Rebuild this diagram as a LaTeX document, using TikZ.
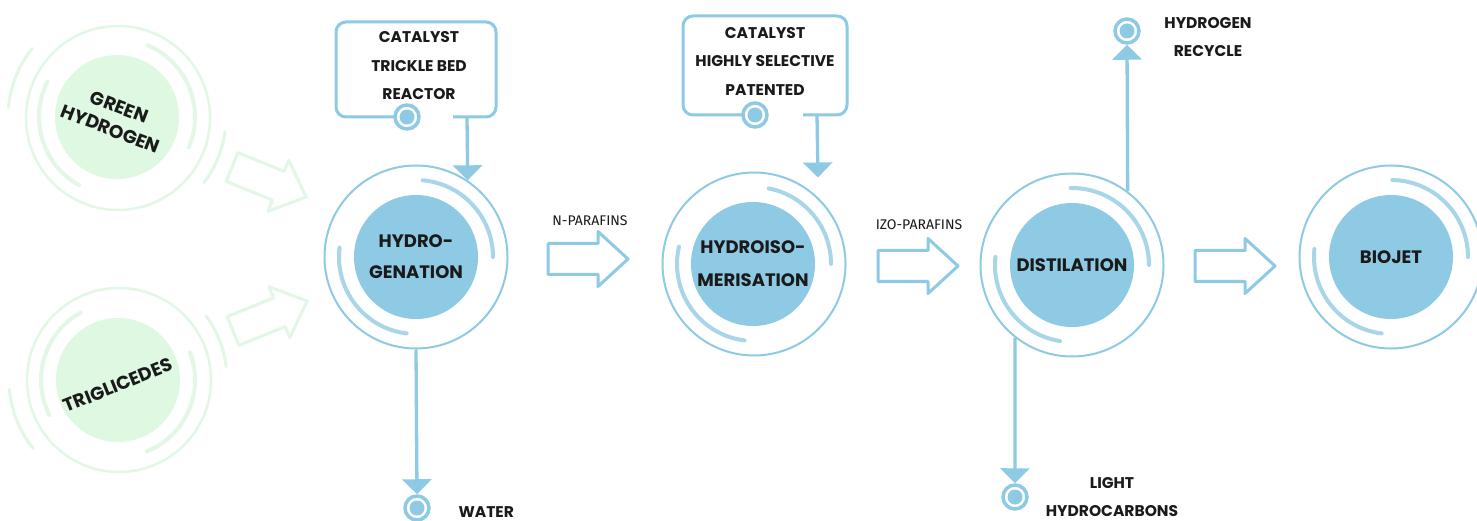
\documentclass[tikz,border=0pt]{standalone}
\usepackage{fontspec}
\setmainfont{Poppins}
\newfontfamily\labfont{Fira Sans}
\usetikzlibrary{arrows.meta}
\definecolor{procblue}{RGB}{142,202,228}
\definecolor{arcblue}{RGB}{168,214,232}
\definecolor{gfill}{RGB}{222,248,225}
\definecolor{gline}{RGB}{226,247,229}
\definecolor{txt}{RGB}{26,26,26}
\newcommand\twoarcs[6]{%
  \begin{scope}[shift={#1},yscale=-1]
    \draw[#6] (#2:77) arc[start angle=#2,end angle=#3,radius=77];
    \draw[#6] (#4:77) arc[start angle=#4,end angle=#5,radius=77];
  \end{scope}}
\newcommand\arcpair[7]{% center, a1,a2,b1,b2, radius, style
  \begin{scope}[shift={#1},yscale=-1]
    \draw[#7] (#2:#6) arc[start angle=#2,end angle=#3,radius=#6];
    \draw[#7] (#4:#6) arc[start angle=#4,end angle=#5,radius=#6];
  \end{scope}}
\begin{document}
\begin{tikzpicture}[x=1pt,y=-1pt,
  core/.style={circle,fill=procblue,minimum size=124pt,inner sep=0pt,align=center,text=txt,
    font=\bfseries\fontsize{18}{31}\selectfont},
  ringo/.style={circle,draw=procblue,line width=2pt,minimum size=183pt,inner sep=0pt},
  barc/.style={draw=arcblue,line width=4pt,line cap=round},
  gcore/.style={circle,fill=gfill,minimum size=124pt,inner sep=0pt},
  gringo/.style={circle,draw=gline,line width=2.5pt,minimum size=184pt,inner sep=0pt},
  garc/.style={draw=gline,line width=4pt,line cap=round},
  gtext/.style={align=center,text=txt,font=\bfseries\fontsize{18.5}{24}\selectfont},
  boxtext/.style={align=center,text=txt,font=\bfseries\fontsize{15.5}{28.5}\selectfont},
  lab/.style={align=center,text=txt,font=\bfseries\fontsize{15.5}{28}\selectfont},
  flowlab/.style={text=txt,font=\labfont\fontsize{14}{16}\selectfont},
  callout/.style={draw=procblue,line width=3pt,rounded corners=10pt},
  stem/.style={draw=procblue,line width=3.3pt,-{Triangle[width=29pt,length=15pt]}},
  endring/.style={circle,draw=procblue,line width=3.5pt,fill=white,minimum size=24pt,inner sep=0pt,
    path picture={\fill[procblue] (path picture bounding box.center) circle[radius=7.5pt];}},
  barrow/.pic={\draw[pic actions,line join=round] (0,-15.5) -- (50,-15.5) -- (50,-27.5) -- (80,0) -- (50,27.5) -- (50,15.5) -- (0,15.5) -- cycle;},
  blockb/.style={draw=procblue,line width=3pt},
  blockg/.style={draw=gline,line width=3pt}
]
\useasboundingbox[fill=white] (0,0) rectangle (1477,521);

% ---- green inputs ----
\node[gringo] (ghO) at (118,118) {};
\node[gcore] (ghC) at (117,117) {};
\arcpair{(117,117)}{67}{-23}{153}{241}{78}{garc}
\arcpair{(117,117)}{141}{175}{-8}{-37}{109}{garc,line width=3pt}
\node[gtext,rotate=-21] (gh) at (115,118) {GREEN\\HYDROGEN};

\node[gringo] (trO) at (119,380) {};
\node[gcore] (trC) at (118,380) {};
\arcpair{(118,380)}{21}{-68}{119}{207}{77}{garc}
\arcpair{(118,380)}{185}{219}{36}{7}{109}{garc,line width=3pt}
\node[gtext,rotate=22] (tr) at (118,385) {TRIGLICEDES};

\pic[blockg,rotate=-22] at (232,167) {barrow};
\pic[blockg,rotate=22] at (233,331) {barrow};

% ---- hydrogenation ----
\node[ringo] (hydroO) at (416,257) {};
\node[core] (hydro) at (416,257) {HYDRO-\\GENATION};
\twoarcs{(416,257)}{85}{0}{173}{263}{barc}

\draw[callout] (453,117) -- (496,117) -- (496,22) -- (336,22) -- (336,117) -- (407,117);
\node[boxtext] (cat1) at (419,66) {CATALYST\\TRICKLE BED\\REACTOR};
\node[endring] (ring1) at (407,117) {};
\coordinate (stem1) at (467,117);
\draw[stem] (stem1) -- (hydroO.56.5);

\node[endring] (water) at (417,508) {};
\draw[stem] (hydroO.south) -- (water.north);
\node[lab,anchor=west] (waterlab) at (455,512) {WATER};

% ---- n-parafins ----
\node[flowlab] (npar) at (590,221) {N-PARAFINS};
\pic[blockb] at (548,259) {barrow};

% ---- hydroisomerisation ----
\node[ringo] (isoO) at (754,264) {};
\node[core,font=\bfseries\fontsize{18}{33}\selectfont] (iso) at (753,264) {HYDROISO-\\MERISATION};
\twoarcs{(754,264)}{79}{0}{167}{263}{barc}

\draw[callout] (803,115) -- (847,115) -- (847,16) -- (683,16) -- (683,115) -- (755,115);
\node[boxtext] (cat2) at (765,61) {CATALYST\\HIGHLY SELECTIVE\\PATENTED};
\node[endring] (ring2) at (755,115) {};
\coordinate (stem2) at (817,115);
\draw[stem,shorten >=20pt] (stem2) -- (isoO.46);

% ---- izo-parafins ----
\node[flowlab] (izo) at (919,225) {IZO-PARAFINS};
\pic[blockb] at (878,266) {barrow};

% ---- distilation ----
\node[ringo] (disO) at (1072,265) {};
\node[core] (dis) at (1072,265) {DISTILATION};
\twoarcs{(1072,265)}{91}{0}{174}{261}{barc}

\node[endring] (h2r) at (1127,31) {};
\draw[stem] (disO.53) -- (h2r.south);
\node[lab] (h2lab) at (1208,37) {HYDROGEN\\RECYCLE};

\node[endring] (lh) at (1015,497) {};
\draw[stem] (disO.-128.5) -- (lh.north);
\node[lab] (lhlab) at (1112,497) {LIGHT\\HYDROCARBONS};

\pic[blockb] at (1195,266) {barrow};

% ---- biojet ----
\node[ringo] (bioO) at (1391,257) {};
\node[core] (bio) at (1391,257) {BIOJET};
\twoarcs{(1391,257)}{89}{0}{174}{263}{barc}
\end{tikzpicture}
\end{document}
